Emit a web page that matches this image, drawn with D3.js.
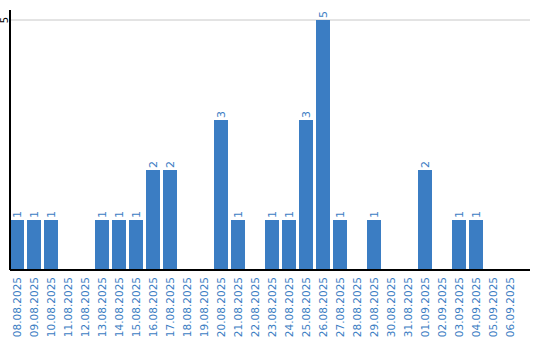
<!DOCTYPE html>
<html>
<head>
<meta charset="utf-8">
<script src="https://cdn.jsdelivr.net/npm/d3@7"></script>
<style>
  body { margin: 0; background: #fff; }
  svg { display: block; font-family: "DejaVu Sans", sans-serif; }
</style>
</head>
<body>
<svg id="chart" width="540" height="340"></svg>
<script>
const BAR = "#3b7dc3";

// one entry per day
const dates = [
  "08.08.2025", "09.08.2025", "10.08.2025", "11.08.2025", "12.08.2025",
  "13.08.2025", "14.08.2025", "15.08.2025", "16.08.2025", "17.08.2025",
  "18.08.2025", "19.08.2025", "20.08.2025", "21.08.2025", "22.08.2025",
  "23.08.2025", "24.08.2025", "25.08.2025", "26.08.2025", "27.08.2025",
  "28.08.2025", "29.08.2025", "30.08.2025", "31.08.2025", "01.09.2025",
  "02.09.2025", "03.09.2025", "04.09.2025", "05.09.2025", "06.09.2025"
];
const counts = [
  1, 1, 1, 0, 0,
  1, 1, 1, 2, 2,
  0, 0, 3, 1, 0,
  1, 1, 3, 5, 1,
  0, 1, 0, 0, 2,
  0, 1, 1, 0, 0
];
const yTicks = [5];

var svg = d3.select("#chart"),
  margin = { top: 20, right: 10, bottom: 70, left: 10 },
  width = +svg.attr("width") - margin.left - margin.right,
  height = +svg.attr("height") - margin.top - margin.bottom,
  g = svg.append("g")
    .attr("transform", "translate(" + margin.left + "," + margin.top + ")");

// 17px step, 14px bars
var x = d3.scaleBand()
  .domain(dates)
  .range([0, dates.length * 17 - 3])
  .paddingInner(3 / 17)
  .paddingOuter(0)
  .align(0);

var y = d3.scaleLinear().domain([0, 5]).range([height, 0]);

// gridline + tick label
g.selectAll(".grid")
  .data(yTicks)
  .enter()
  .append("line")
  .attr("x1", 0)
  .attr("x2", width)
  .attr("y1", d => y(d))
  .attr("y2", d => y(d))
  .attr("stroke", "#c8c8c8")
  .attr("stroke-width", 1);

g.selectAll(".ytick")
  .data(yTicks)
  .enter()
  .append("text")
  .attr("transform", d => "translate(-2," + y(d) + ") rotate(-90)")
  .attr("text-anchor", "middle")
  .attr("font-size", 10)
  .attr("fill", "#000")
  .text(d => d);

// bars
g.selectAll("rect")
  .data(counts)
  .enter()
  .append("rect")
  .attr("x", (d, i) => x(dates[i]))
  .attr("y", d => y(d))
  .attr("width", x.bandwidth())
  .attr("height", d => height - y(d))
  .attr("fill", BAR);

// value labels
g.selectAll(".val")
  .data(counts.map((d, i) => ({ v: d, date: dates[i] })).filter(d => d.v > 0))
  .enter()
  .append("text")
  .attr("transform", d =>
    "translate(" + (x(d.date) + x.bandwidth() / 2 + 4) + "," + (y(d.v) - 2) + ") rotate(-90)")
  .attr("text-anchor", "start")
  .attr("font-size", 11)
  .attr("fill", BAR)
  .text(d => d.v);

// date labels
g.selectAll(".xlab")
  .data(dates)
  .enter()
  .append("text")
  .attr("transform", d =>
    "translate(" + (x(d) + x.bandwidth() / 2 + 4) + "," + (height + 7) + ") rotate(-90)")
  .attr("text-anchor", "end")
  .attr("font-size", 10.5)
  .attr("fill", BAR)
  .text(d => d);

// axes lines
g.append("line")
  .attr("x1", 0).attr("x2", 0)
  .attr("y1", -10).attr("y2", height)
  .attr("stroke", "#000")
  .attr("stroke-width", 2);

g.append("line")
  .attr("x1", 0).attr("x2", width)
  .attr("y1", height).attr("y2", height)
  .attr("stroke", "#000")
  .attr("stroke-width", 2);
</script>
</body>
</html>
